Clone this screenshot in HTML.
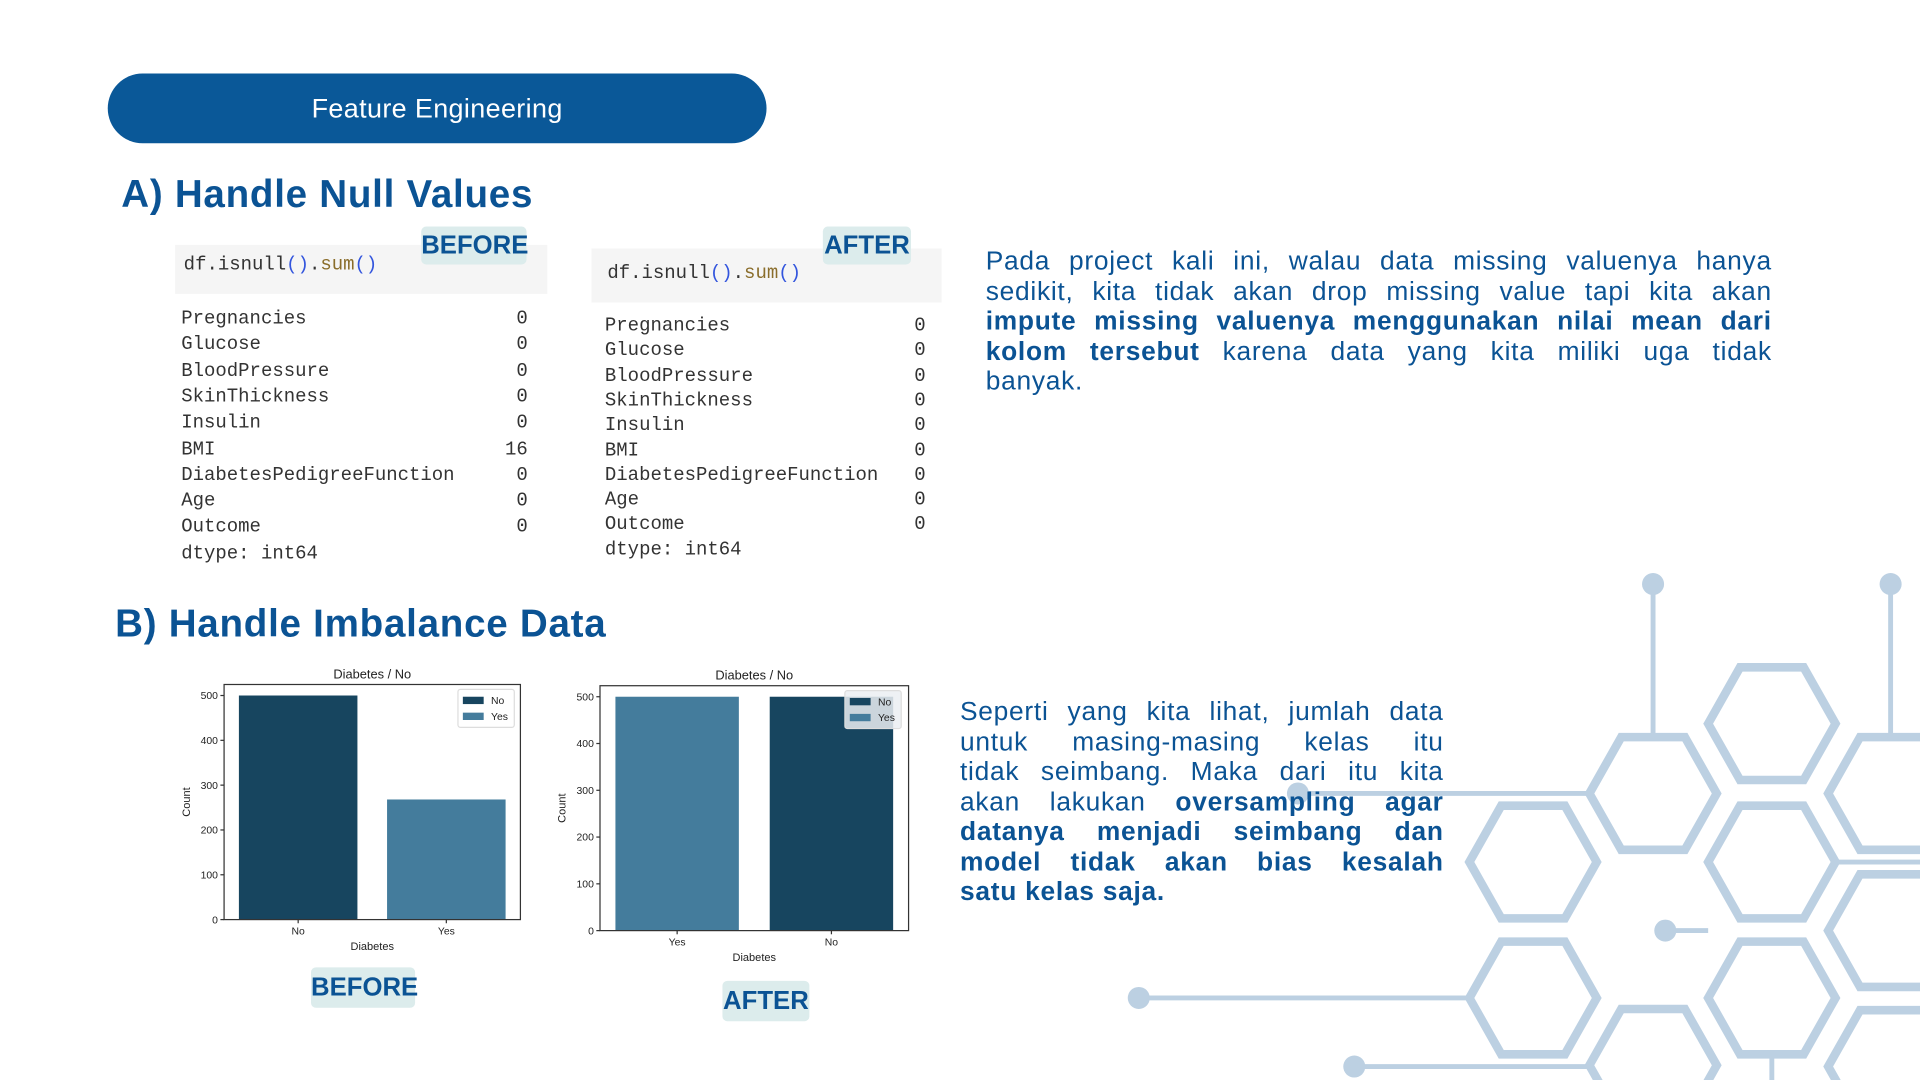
<!DOCTYPE html>
<html><head><meta charset="utf-8">
<style>
html,body{margin:0;padding:0;background:#fff;}
body{width:1920px;height:1080px;overflow:hidden;position:relative;}
#stage{position:absolute;left:0;top:0;width:1568px;height:882px;transform:scale(1.22449);transform-origin:0 0;font-family:"Liberation Sans",sans-serif;color:#0b5394;}
.abs{position:absolute;}
.pill{left:88px;top:60px;width:538px;height:57px;border-radius:29px;background:#0a5898;color:#fff;font-size:22px;text-align:center;line-height:57px;letter-spacing:0.3px;}
.h{font-weight:bold;font-size:31.5px;color:#0b5394;white-space:nowrap;letter-spacing:0.6px;}
.code{background:#f5f5f5;}
.mono{font-family:"Liberation Mono",monospace;font-size:15.5px;color:#333;white-space:pre;}
.badge{background:#dcecec;border-radius:4px;font-weight:bold;font-size:21px;color:#0b5394;text-align:center;}
.row{position:absolute;font-family:"Liberation Mono",monospace;font-size:15.5px;color:#333;white-space:pre;}
.para{font-size:21.5px;line-height:24.5px;color:#0b5394;letter-spacing:0.6px;}
.para div{text-align:justify;text-align-last:justify;white-space:nowrap;}
.para div.last{text-align-last:left;}
.para b{font-weight:bold;}
</style></head>
<body>
<div id="stage">
<svg class="abs" style="left:0;top:0" width="1568" height="882">
 <g stroke="#bcd0e2" stroke-width="7" fill="none" id="hexes"></g>
 <g stroke="#bcd0e2" stroke-width="4" fill="#bcd0e2" id="lines">
  <line x1="1350" y1="477" x2="1350" y2="602"/><circle cx="1350" cy="477" r="9" stroke="none"/>
  <line x1="1544" y1="477" x2="1544" y2="602"/><circle cx="1544" cy="477" r="9" stroke="none"/>
  <line x1="1060" y1="648" x2="1298" y2="648"/><circle cx="1060" cy="648" r="9" stroke="none"/>
  <line x1="1360" y1="760" x2="1395" y2="760"/><circle cx="1360" cy="760" r="9" stroke="none"/>
  <line x1="930" y1="815" x2="1200" y2="815"/><circle cx="930" cy="815" r="9" stroke="none"/>
  <line x1="1106" y1="871" x2="1300" y2="871"/><circle cx="1106" cy="871" r="9" stroke="none"/>
  <line x1="1447" y1="862" x2="1447" y2="882"/>
  <line x1="1500" y1="704" x2="1568" y2="704"/>
 </g>
</svg>

<div class="abs pill">Feature Engineering</div>
<div class="abs h" style="left:99px;top:140px">A) Handle Null Values</div>

<div class="abs code" style="left:143px;top:200px;width:304px;height:40px"></div>
<div class="abs mono" style="left:150px;top:207px">df.isnull<span style="color:#3355dd">()</span>.<span style="color:#8a6d2b">sum</span><span style="color:#3355dd">()</span></div>
<div class="abs badge" style="left:344px;top:185px;width:86px;height:31px;line-height:31px">BEFORE</div>

<div class="abs code" style="left:483px;top:203px;width:286px;height:44px"></div>
<div class="abs mono" style="left:496px;top:214px">df.isnull<span style="color:#3355dd">()</span>.<span style="color:#8a6d2b">sum</span><span style="color:#3355dd">()</span></div>
<div class="abs badge" style="left:672px;top:185px;width:72px;height:31px;line-height:31px">AFTER</div>

<div id="listBefore"></div>
<div id="listAfter"></div>

<div class="abs para" style="left:805px;top:201px;width:642px">
<div>Pada project kali ini, walau data missing valuenya hanya</div>
<div>sedikit, kita tidak akan drop missing value tapi kita akan</div>
<div><b>impute missing valuenya menggunakan nilai mean dari</b></div>
<div><b>kolom tersebut</b> karena data yang kita miliki uga tidak</div>
<div class="last">banyak.</div>
</div>

<div class="abs h" style="left:94px;top:491px">B) Handle Imbalance Data</div>

<svg id="chartBefore" class="abs" style="left:0;top:0" width="1568" height="882"></svg>
<svg id="chartAfter" class="abs" style="left:0;top:0" width="1568" height="882"></svg>

<div class="abs badge" style="left:254px;top:790px;width:85px;height:33px;line-height:33px">BEFORE</div>
<div class="abs badge" style="left:590px;top:801px;width:71px;height:33px;line-height:33px">AFTER</div>

<div class="abs para" style="left:784px;top:569px;width:395px">
<div>Seperti yang kita lihat, jumlah data</div>
<div>untuk masing-masing kelas itu</div>
<div>tidak seimbang. Maka dari itu kita</div>
<div>akan lakukan <b>oversampling agar</b></div>
<div><b>datanya menjadi seimbang dan</b></div>
<div><b>model tidak akan bias kesalah</b></div>
<div class="last"><b>satu kelas saja.</b></div>
</div>
</div>

<script>
// ---- null-count tables ----
const featureNames = ["Pregnancies","Glucose","BloodPressure","SkinThickness","Insulin","BMI","DiabetesPedigreeFunction","Age","Outcome"];
const nullsBefore = [0,0,0,0,0,16,0,0,0];
const nullsAfter = [0,0,0,0,0,0,0,0,0];

// ---- chart data ----
const beforeCategories = ["No","Yes"];
const beforeCounts = [500,268];
const afterCategories = ["Yes","No"];
const afterCounts = [500,500];
const yTicks = [0,100,200,300,400,500];

const NS="http://www.w3.org/2000/svg";

function buildList(host, vals, x, vx, y0, step){
  featureNames.forEach((n,i)=>{
    const d=document.createElement('div');d.className='row';
    
    
    d.style.left=x+'px';d.style.top=(y0+i*step-9)+'px';d.textContent=n;host.appendChild(d);
    const v=document.createElement('div');v.className='row';
    
    
    v.style.left=(vx-40)+'px';v.style.width='40px';v.style.textAlign='right';
    v.style.top=(y0+i*step-9)+'px';v.textContent=String(vals[i]);host.appendChild(v);
  });
  const t=document.createElement('div');t.className='row';
  
  
  t.style.left=x+'px';t.style.top=(y0+featureNames.length*step-9)+'px';t.textContent='dtype: int64';host.appendChild(t);
}
buildList(document.getElementById('listBefore'), nullsBefore, 148, 431, 260, 21.3);
buildList(document.getElementById('listAfter'), nullsAfter, 494, 756, 266, 20.3);

// ---- hexagons ----
const hexCenters=[[1252,704],[1252,815],[1350,648],[1447,591],[1447,704],[1447,815],[1545,648],[1545,760],[1545,871],[1350,870]];
const hg=document.getElementById('hexes');
hexCenters.forEach(([cx,cy])=>{
  const p=document.createElementNS(NS,'polygon');
  const pts=[[-52,0],[-26,-46],[26,-46],[52,0],[26,46],[-26,46]].map(a=>(cx+a[0])+','+(cy+a[1])).join(' ');
  p.setAttribute('points',pts);
  
  
  hg.appendChild(p);
});

function el(tag,attrs,parent,text){const e=document.createElementNS(NS,tag);for(const k in attrs)e.setAttribute(k,attrs[k]);if(text!==undefined)e.textContent=text;parent.appendChild(e);return e;}

const DARK="#17455f", LIGHT="#447c9c";
function drawChart(svg,cats,vals,colors,g){
  const y=v=>g.bottom-v*g.k;
  const x=i=>g.left+(i+0.5)*(g.right-g.left)/cats.length;
  const bw=0.8*(g.right-g.left)/cats.length;
  const t=el('text',{x:(g.left+g.right)/2,y:g.top-5,'font-size':10.5,'text-anchor':'middle',fill:'#222'},svg,'Diabetes / No');
  
  
  cats.forEach((c,i)=>{
    const r=el('rect',{x:x(i)-bw/2,y:y(vals[i]),width:bw,height:g.bottom-y(vals[i]),fill:colors[i]},svg);
    
    
    el('line',{x1:x(i),x2:x(i),y1:g.bottom,y2:g.bottom+3,stroke:'#333'},svg);
    const lb=el('text',{x:x(i),y:g.bottom+12,'font-size':8.5,'text-anchor':'middle',fill:'#222'},svg,c);
    
    
  });
  yTicks.forEach(v=>{
    el('line',{x1:g.left-3,x2:g.left,y1:y(v),y2:y(v),stroke:'#333'},svg);
    const tl=el('text',{x:g.left-5,y:y(v)+3,'font-size':8.5,'text-anchor':'end',fill:'#222'},svg,String(v));
    
    
  });
  const fr=el('rect',{x:g.left,y:g.top,width:g.right-g.left,height:g.bottom-g.top,fill:'none',stroke:'#333','stroke-width':1},svg);
  
  
  const xl=el('text',{x:(g.left+g.right)/2,y:g.bottom+25,'font-size':9,'text-anchor':'middle',fill:'#222'},svg,'Diabetes');
  
  
  const cy=(g.top+g.bottom)/2, cx=g.left-28;
  const yl=el('text',{x:cx,y:cy,'font-size':9,'text-anchor':'middle',fill:'#222',transform:`rotate(-90 ${cx} ${cy})`},svg,'Count');
  
  
  const lg=el('g',{},svg);
  
  
  el('rect',{x:g.lx,y:g.ly,width:46,height:31,rx:2,fill:g.lbg,stroke:'#ddd'},lg);
  el('rect',{x:g.lx+4,y:g.ly+6,width:17,height:6,fill:DARK},lg);
  el('text',{x:g.lx+27,y:g.ly+12,'font-size':8.5,fill:'#222'},lg,'No');
  el('rect',{x:g.lx+4,y:g.ly+19,width:17,height:6,fill:LIGHT},lg);
  el('text',{x:g.lx+27,y:g.ly+25,'font-size':8.5,fill:'#222'},lg,'Yes');
}
drawChart(document.getElementById('chartBefore'),beforeCategories,beforeCounts,[DARK,LIGHT],
  {left:183,right:425,top:559,bottom:751,k:0.366,lx:374,ly:563,lbg:'#fff'});
drawChart(document.getElementById('chartAfter'),afterCategories,afterCounts,[LIGHT,DARK],
  {left:490,right:742,top:560,bottom:760,k:0.382,lx:690,ly:564,lbg:'rgba(235,238,242,0.85)'});
</script>
</body></html>
